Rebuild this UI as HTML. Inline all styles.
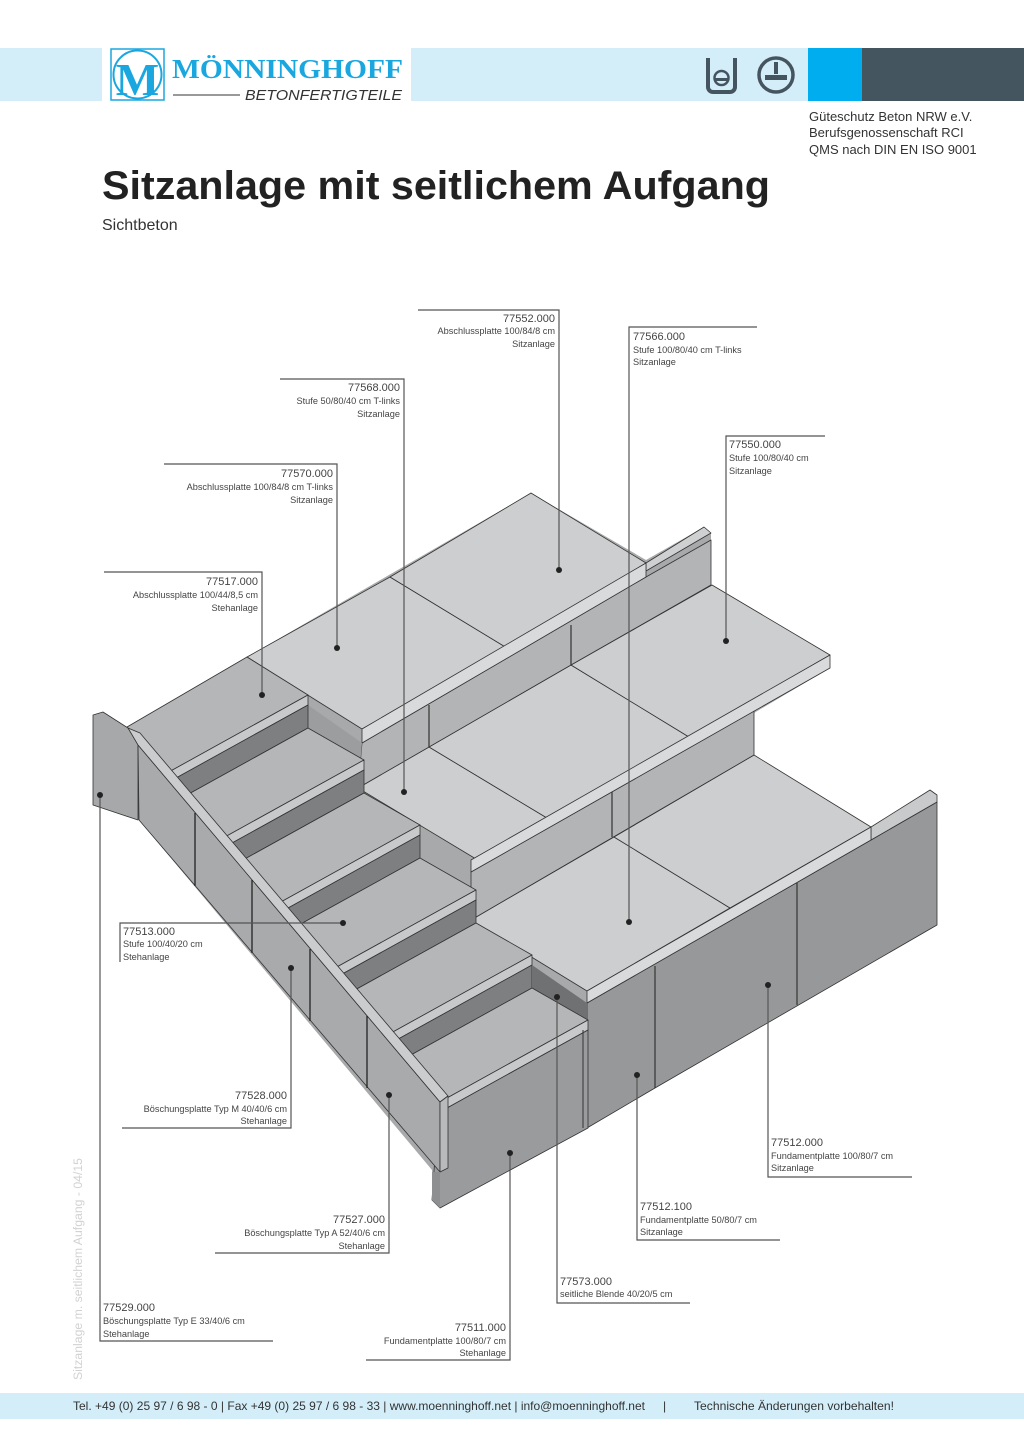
<!DOCTYPE html>
<html><head><meta charset="utf-8"><style>
html,body{margin:0;padding:0;background:#fff;}
svg{display:block;}
text{font-family:"Liberation Sans",sans-serif;}
.c{font-size:11px;fill:#444;}
.d{font-size:9.2px;fill:#444;}
.ln{stroke:#555;stroke-width:1.2;fill:none;}
.dot{fill:#222;}
.e{stroke:#333;stroke-width:0.8;stroke-linejoin:round;}
</style></head><body>
<svg width="1024" height="1448" viewBox="0 0 1024 1448" xmlns="http://www.w3.org/2000/svg">
<!-- header -->
<rect x="0" y="48" width="808" height="53" fill="#d4eef9"/>
<rect x="808" y="48" width="54" height="53" fill="#00aeef"/>
<rect x="862" y="48" width="162" height="53" fill="#455560"/>
<rect x="102" y="48" width="309" height="53" fill="#fff"/>
<rect x="111" y="49" width="53" height="51" fill="#fff" stroke="#1aa7e0" stroke-width="1.5"/>
<circle cx="137.5" cy="74.5" r="24" fill="none" stroke="#1aa7e0" stroke-width="2"/>
<text x="137.5" y="95" text-anchor="middle" font-family="Liberation Serif,serif" font-weight="bold" font-size="46" fill="#1aa7e0" style="font-family:'Liberation Serif',serif">M</text>
<text x="172" y="78" font-weight="bold" font-size="27" fill="#1aa7e0" textLength="231" lengthAdjust="spacingAndGlyphs" style="font-family:'Liberation Serif',serif">MÖNNINGHOFF</text>
<line x1="173" y1="95" x2="240" y2="95" stroke="#333" stroke-width="1"/>
<text x="245" y="100" font-style="italic" font-size="15" fill="#333" textLength="157" lengthAdjust="spacingAndGlyphs">BETONFERTIGTEILE</text>
<!-- icons -->
<path d="M708 58 v29 a5 5 0 0 0 5 5 h17 a5 5 0 0 0 5 -5 v-29" fill="none" stroke="#455560" stroke-width="4"/>
<circle cx="721.5" cy="78" r="7" fill="none" stroke="#455560" stroke-width="2.5"/>
<rect x="715" y="78" width="13" height="3" fill="#455560"/>
<circle cx="776" cy="75" r="17" fill="none" stroke="#455560" stroke-width="3.5"/>
<rect x="774" y="62" width="4" height="12" fill="#455560"/>
<rect x="765" y="75" width="22" height="5" fill="#455560"/>
<!-- right info -->
<text x="809" y="121" font-size="13" fill="#333">Güteschutz Beton NRW e.V.</text>
<text x="809" y="137" font-size="13" fill="#333">Berufsgenossenschaft RCI</text>
<text x="809" y="154" font-size="13" fill="#333">QMS nach DIN EN ISO 9001</text>
<!-- title -->
<text x="102" y="199" font-weight="bold" font-size="40" fill="#222" textLength="668" lengthAdjust="spacingAndGlyphs">Sitzanlage mit seitlichem Aufgang</text>
<text x="102" y="230" font-size="16" fill="#333">Sichtbeton</text>

<!-- base silhouette -->
<polygon fill="#a8a9ab" points="93,715 127,727 247,657 531,493 646,560 704,527 711,533 711,585 830,655 830,668 754,713 754,755 871,827 930,790 937,795 937,925 655,1088 583,1130 440,1208 432,1200 432,1170 139,820 93,805"/>
<!-- foundation face sitzanlage -->
<polygon fill="#97989a" class="e" points="587,1003 871,840 937,802 937,925 655,1088 587,1128"/>
<polygon fill="#c9cacb" class="e" points="871,827 930,790 937,795 937,802 871,840"/>
<line x1="655" y1="966" x2="655" y2="1088" stroke="#333" stroke-width="1.2"/>
<line x1="797" y1="883" x2="797" y2="1005" stroke="#333" stroke-width="1.2"/>
<!-- tier C -->
<polygon fill="#cdcecf" class="e" points="471,920 614,837 730,908 587,991"/>
<polygon fill="#cdcecf" class="e" points="614,837 754,755 871,827 730,908"/>
<polygon fill="#d9dadb" class="e" points="587,991 871,827 871,840 587,1003"/>
<!-- tier B riser -->
<polygon fill="#b3b4b6" class="e" points="471,872 754,711 754,755 471,920"/>
<line x1="612" y1="792" x2="612" y2="837" stroke="#333" stroke-width="1.2"/>
<!-- tier B plates -->
<polygon fill="#cdcecf" class="e" points="358,788 429,747 547,818 476,859"/>
<polygon fill="#cdcecf" class="e" points="429,747 571,665 689,737 547,818"/>
<polygon fill="#cdcecf" class="e" points="571,665 712,585 830,655 689,737"/>
<polygon fill="#d9dadb" class="e" points="471,860 830,655 830,668 471,872"/>
<!-- tier A riser & wall -->
<polygon fill="#b3b4b6" class="e" points="362,743 646,577 711,540 711,585 571,665 358,788"/>
<polygon fill="#cfd0d1" class="e" points="646,563 704,527 711,533 646,571"/>
<line x1="429" y1="705" x2="429" y2="747" stroke="#333" stroke-width="1.2"/>
<line x1="571" y1="625" x2="571" y2="665" stroke="#333" stroke-width="1.2"/>
<!-- tier A plates -->
<polygon fill="#cdcecf" class="e" points="247,657 390,577 507,648 362,729"/>
<polygon fill="#cdcecf" class="e" points="390,577 531,493 646,563 507,648"/>
<polygon fill="#d9dadb" class="e" points="362,729 646,563 646,577 362,743"/>
<!-- left face of tiers -->
<polygon fill="#9c9d9f" points="308,705 362,743 358,788 308,760"/>
<!-- stairs -->
<polygon fill="#b5b6b8" class="e" points="127,727 247,657 308,695 158,778"/>
<polygon fill="#c8c9ca" class="e" points="308,695 158,778 158,788 308,705"/>
<polygon fill="#7d7f81" class="e" points="308,705 158,788 158,811 308,728"/>

<polygon fill="#b5b6b8" class="e" points="308,728 364,760 214,843 158,811"/>
<polygon fill="#c8c9ca" class="e" points="364,760 214,843 214,853 364,770"/>
<polygon fill="#7d7f81" class="e" points="364,770 214,853 214,876 364,793"/>

<polygon fill="#b5b6b8" class="e" points="364,793 420,825 270,908 214,876"/>
<polygon fill="#c8c9ca" class="e" points="420,825 270,908 270,918 420,835"/>
<polygon fill="#7d7f81" class="e" points="420,835 270,918 270,941 420,858"/>

<polygon fill="#b5b6b8" class="e" points="420,858 476,890 326,973 270,941"/>
<polygon fill="#c8c9ca" class="e" points="476,890 326,973 326,983 476,900"/>
<polygon fill="#7d7f81" class="e" points="476,900 326,983 326,1006 476,923"/>

<polygon fill="#b5b6b8" class="e" points="476,923 532,955 382,1038 326,1006"/>
<polygon fill="#c8c9ca" class="e" points="532,955 382,1038 382,1048 532,965"/>
<polygon fill="#7d7f81" class="e" points="532,965 382,1048 382,1071 532,988"/>
<polygon fill="#6f7173" points="532,965 587,1003 587,1020 532,988"/>

<polygon fill="#b5b6b8" class="e" points="532,988 588,1020 438,1103 382,1071"/>
<polygon fill="#c8c9ca" class="e" points="588,1020 438,1103 438,1113 588,1030"/>
<polygon fill="#9a9b9d" class="e" points="438,1113 588,1030 588,1128 440,1208 432,1200"/>
<line x1="583" y1="1030" x2="583" y2="1128" stroke="#333" stroke-width="1"/>

<!-- side wall -->
<polygon fill="#a7a8aa" class="e" points="93,715 103,712 128,728 138,742 138,820 93,805"/>
<polygon fill="#a9aaac" class="e" points="138,745 440,1102 440,1172 139,820"/>
<polygon fill="#cbcccd" class="e" points="128,728 138,745 440,1102 448,1096 140,733"/>
<polygon fill="#b9babc" class="e" points="440,1102 448,1096 448,1168 440,1172"/>
<polygon fill="#8e8f91" points="432,1172 440,1172 440,1208 432,1200"/>
<line x1="195" y1="813" x2="195" y2="886" stroke="#222" stroke-width="1.3"/>
<line x1="252" y1="880" x2="252" y2="953" stroke="#222" stroke-width="1.3"/>
<line x1="310" y1="949" x2="310" y2="1021" stroke="#222" stroke-width="1.3"/>
<line x1="367" y1="1016" x2="367" y2="1088" stroke="#222" stroke-width="1.3"/>

<!-- leaders -->
<g class="ln">
<polyline points="418,310 559,310 559,570"/>
<polyline points="280,379 404,379 404,792"/>
<polyline points="164,464 337,464 337,648"/>
<polyline points="104,572 262,572 262,695"/>
<polyline points="757,327 629,327 629,922"/>
<polyline points="825,436 726,436 726,641"/>
<polyline points="120,962 120,923 343,923"/>
<polyline points="122,1128 291,1128 291,968"/>
<polyline points="215,1253 389,1253 389,1095"/>
<polyline points="273,1341 100,1341 100,795"/>
<polyline points="366,1360 510,1360 510,1153"/>
<polyline points="690,1303 557,1303 557,997"/>
<polyline points="780,1240 637,1240 637,1075"/>
<polyline points="912,1177 768,1177 768,985"/>
</g>
<g class="dot">
<circle cx="559" cy="570" r="3"/><circle cx="404" cy="792" r="3"/><circle cx="337" cy="648" r="3"/>
<circle cx="262" cy="695" r="3"/><circle cx="629" cy="922" r="3"/><circle cx="726" cy="641" r="3"/>
<circle cx="343" cy="923" r="3"/><circle cx="291" cy="968" r="3"/><circle cx="389" cy="1095" r="3"/>
<circle cx="100" cy="795" r="3"/><circle cx="510" cy="1153" r="3"/><circle cx="557" cy="997" r="3"/>
<circle cx="637" cy="1075" r="3"/><circle cx="768" cy="985" r="3"/>
</g>
<!-- labels right aligned -->
<g text-anchor="end">
<text class="c" x="555" y="322">77552.000</text><text class="d" x="555" y="334">Abschlussplatte  100/84/8 cm</text><text class="d" x="555" y="347">Sitzanlage</text>
<text class="c" x="400" y="391">77568.000</text><text class="d" x="400" y="404">Stufe 50/80/40 cm T-links</text><text class="d" x="400" y="417">Sitzanlage</text>
<text class="c" x="333" y="477">77570.000</text><text class="d" x="333" y="490">Abschlussplatte  100/84/8 cm T-links</text><text class="d" x="333" y="503">Sitzanlage</text>
<text class="c" x="258" y="585">77517.000</text><text class="d" x="258" y="598">Abschlussplatte 100/44/8,5 cm</text><text class="d" x="258" y="611">Stehanlage</text>
<text class="c" x="287" y="1099">77528.000</text><text class="d" x="287" y="1112">Böschungsplatte Typ M 40/40/6 cm</text><text class="d" x="287" y="1124">Stehanlage</text>
<text class="c" x="385" y="1223">77527.000</text><text class="d" x="385" y="1236">Böschungsplatte Typ A 52/40/6 cm</text><text class="d" x="385" y="1249">Stehanlage</text>
<text class="c" x="506" y="1331">77511.000</text><text class="d" x="506" y="1344">Fundamentplatte 100/80/7 cm</text><text class="d" x="506" y="1356">Stehanlage</text>
</g>
<g>
<text class="c" x="633" y="340">77566.000</text><text class="d" x="633" y="353">Stufe 100/80/40 cm T-links</text><text class="d" x="633" y="365">Sitzanlage</text>
<text class="c" x="729" y="448">77550.000</text><text class="d" x="729" y="461">Stufe 100/80/40  cm</text><text class="d" x="729" y="474">Sitzanlage</text>
<text class="c" x="123" y="935">77513.000</text><text class="d" x="123" y="947">Stufe 100/40/20 cm</text><text class="d" x="123" y="960">Stehanlage</text>
<text class="c" x="103" y="1311">77529.000</text><text class="d" x="103" y="1324">Böschungsplatte Typ E 33/40/6 cm</text><text class="d" x="103" y="1337">Stehanlage</text>
<text class="c" x="560" y="1285">77573.000</text><text class="d" x="560" y="1297">seitliche Blende 40/20/5 cm</text>
<text class="c" x="640" y="1210">77512.100</text><text class="d" x="640" y="1223">Fundamentplatte 50/80/7 cm</text><text class="d" x="640" y="1235">Sitzanlage</text>
<text class="c" x="771" y="1146">77512.000</text><text class="d" x="771" y="1159">Fundamentplatte 100/80/7 cm</text><text class="d" x="771" y="1171">Sitzanlage</text>
</g>
<!-- vertical side text -->
<text transform="translate(82,1380) rotate(-90)" font-size="11.5" fill="#d2d2d2" textLength="222" lengthAdjust="spacingAndGlyphs">Sitzanlage m. seitlichem Aufgang - 04/15</text>
<!-- footer -->
<rect x="0" y="1393" width="1024" height="26" fill="#d4eef9"/>
<text x="73" y="1410" font-size="12" fill="#333" textLength="572" lengthAdjust="spacingAndGlyphs">Tel. +49 (0) 25 97 / 6 98 - 0 | Fax +49 (0) 25 97 / 6 98 - 33 | www.moenninghoff.net | info@moenninghoff.net</text>
<text x="663" y="1410" font-size="12" fill="#333">|</text>
<text x="694" y="1410" font-size="12" fill="#333" textLength="200" lengthAdjust="spacingAndGlyphs">Technische Änderungen vorbehalten!</text>
</svg>
</body></html>
